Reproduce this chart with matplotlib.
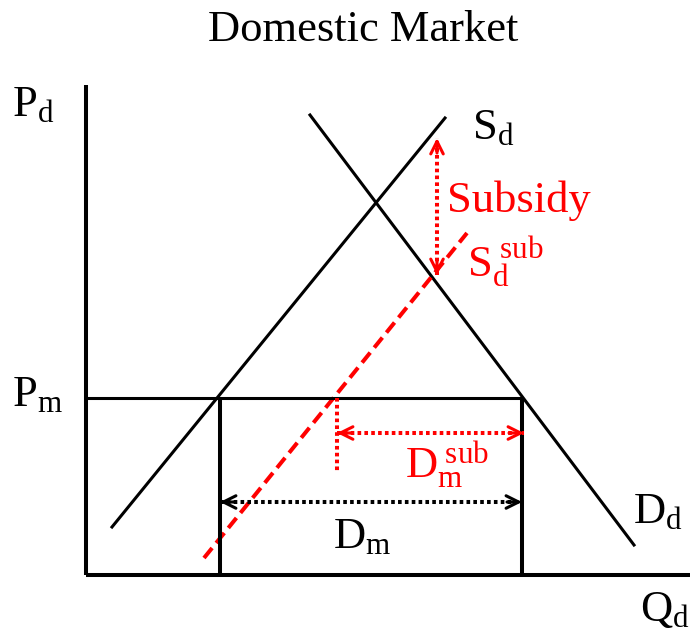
import matplotlib
matplotlib.use('Agg')
import matplotlib.pyplot as plt
import numpy as np

plt.rcParams['font.family'] = ['Liberation Serif', 'DejaVu Serif']
plt.rcParams['mathtext.fontset'] = 'custom'
plt.rcParams['mathtext.rm'] = 'Liberation Serif'
plt.rcParams['mathtext.it'] = 'Liberation Serif:italic'

# curve end points (quantity, price), origin at axes corner
supply_q = [26, 359]
supply_p = [48, 457]
demand_q = [224, 548]
demand_p = [460, 30]
sub_q = [118, 381]
sub_p = [17, 342]

pm = 177            # world price
q_s_pm = 134        # domestic supply at Pm
q_d_pm = 436        # domestic demand at Pm
q_sub_pm = 251      # subsidised supply at Pm

subsidy_q = 351
subsidy_top, subsidy_bot = 437, 300
dm_sub_p = 142
dm_sub_low = 103
dm_p = 73

x_max, y_max = 604, 490

red = '#ff0000'
lw_thin = 2.2
lw_thick = 2.9
dots = (0, (0.9, 0.8))

fig = plt.figure(figsize=(6.92, 6.30), dpi=100)
ax = fig.add_axes([0, 0, 1, 1])
ax.set_xlim(-86, 606)
ax.set_ylim(-55, 575)
ax.axis('off')

# axes
ax.plot([0, 0], [0, y_max], color='k', lw=lw_thick, solid_capstyle='butt')
ax.plot([0, x_max], [0, 0], color='k', lw=lw_thick, solid_capstyle='butt')

# curves
ax.plot(supply_q, supply_p, color='k', lw=lw_thin)
ax.plot(demand_q, demand_p, color='k', lw=lw_thin)
ax.plot(sub_q, sub_p, color=red, lw=lw_thick, dashes=(3.2, 1.6))

# world price and import box
ax.plot([0, q_d_pm], [pm, pm], color='k', lw=lw_thin)
ax.plot([q_s_pm, q_s_pm], [0, pm], color='k', lw=lw_thick, solid_capstyle='butt')
ax.plot([q_d_pm, q_d_pm], [0, pm], color='k', lw=lw_thick, solid_capstyle='butt')

# red dotted drop line
ax.plot([q_sub_pm, q_sub_pm], [pm, dm_sub_low], color=red, lw=lw_thick,
        linestyle=dots, dash_capstyle='butt')


def double_arrow(p0, p1, color):
    ax.plot([p0[0], p1[0]], [p0[1], p1[1]], color=color, lw=lw_thick,
            linestyle=dots, dash_capstyle='butt')
    for a, b in ((p0, p1), (p1, p0)):
        d = np.array(b, float) - np.array(a, float)
        d = d / np.hypot(*d) * 15
        ax.annotate('', xy=b, xytext=(b[0] - d[0], b[1] - d[1]),
                    arrowprops=dict(arrowstyle='->,head_length=0.9,head_width=0.45',
                                    color=color, lw=lw_thin,
                                    shrinkA=0, shrinkB=0))


double_arrow((subsidy_q, subsidy_bot), (subsidy_q, subsidy_top), red)
double_arrow((q_sub_pm, dm_sub_p), (q_d_pm + 2, dm_sub_p), red)
double_arrow((q_s_pm, dm_p), (q_d_pm, dm_p), 'k')

fs = 32
ax.text(277, 545, 'Domestic Market', fontsize=fs, ha='center', va='center')
ax.text(-74, 470, r'$\mathrm{P_d}$', fontsize=fs, ha='left', va='center')
ax.text(-74, 180, r'$\mathrm{P_m}$', fontsize=fs, ha='left', va='center')
ax.text(554, -35, r'$\mathrm{Q_d}$', fontsize=fs, ha='left', va='center')
ax.text(386, 447, r'$\mathrm{S_d}$', fontsize=fs, ha='left', va='center')
ax.text(547, 63, r'$\mathrm{D_d}$', fontsize=fs, ha='left', va='center')
ax.text(247, 38, r'$\mathrm{D_m}$', fontsize=fs, ha='left', va='center')
ax.text(361, 374, 'Subsidy', fontsize=fs, color=red, ha='left', va='center')
ax.text(381, 313, r'$\mathrm{S_d^{\ sub}}$', fontsize=fs, color=red, ha='left', va='center')
ax.text(319, 110, r'$\mathrm{D_m^{\ sub}}$', fontsize=fs, color=red, ha='left', va='center')

fig.savefig('out.png', dpi=100)
